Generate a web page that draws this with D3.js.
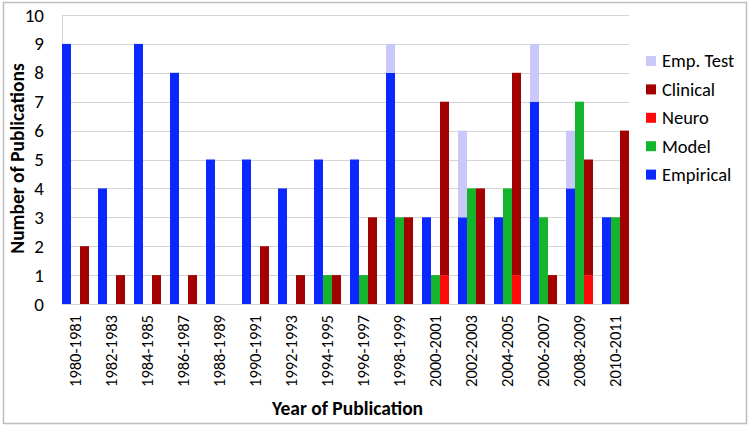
<!DOCTYPE html>
<html>
    <head>
        <meta charset="utf-8">
        <title>Publications by year</title>
        <script type="text/javascript" src="https://cdn.jsdelivr.net/npm/d3@7"></script>
        <style>
            body { margin: 0; background: #fff; }
            text { font-family: Carlito, Lato, "Liberation Sans", sans-serif; }
        </style>
    </head>
    <body>
        <script type="text/javascript">
            var periods = ['1980-1981', '1982-1983', '1984-1985', '1986-1987', '1988-1989', '1990-1991',
                '1992-1993', '1994-1995', '1996-1997', '1998-1999', '2000-2001', '2002-2003',
                '2004-2005', '2006-2007', '2008-2009', '2010-2011'];
            var empirical = [9, 4, 9, 8, 5, 5, 4, 5, 5, 8, 3, 3, 3, 7, 4, 3];
            var empTest   = [0, 0, 0, 0, 0, 0, 0, 0, 0, 1, 0, 3, 0, 2, 2, 0];
            var model     = [0, 0, 0, 0, 0, 0, 0, 1, 1, 3, 1, 4, 4, 3, 7, 3];
            var neuro     = [0, 0, 0, 0, 0, 0, 0, 0, 0, 0, 1, 0, 1, 0, 1, 0];
            var clinical  = [2, 1, 1, 1, 0, 2, 1, 1, 3, 3, 6, 4, 7, 1, 4, 6];
            var yTicks = [0, 1, 2, 3, 4, 5, 6, 7, 8, 9, 10];

            var legendItems = [
                {name: 'Emp. Test', color: '#c8c8fa'},
                {name: 'Clinical', color: '#a30000'},
                {name: 'Neuro', color: '#ff0a0a'},
                {name: 'Model', color: '#14b42d'},
                {name: 'Empirical', color: '#0a28ff'}
            ];
            var colorOf = {};
            legendItems.forEach(function(d) { colorOf[d.name] = d.color; });

            // three columns per period: blue (empirical + test), green (model), red (neuro + clinical)
            var columns = [
                [{name: 'Empirical', vals: empirical}, {name: 'Emp. Test', vals: empTest}],
                [{name: 'Model', vals: model}],
                [{name: 'Neuro', vals: neuro}, {name: 'Clinical', vals: clinical}]
            ];

            var W = 750, H = 428;
            var plot = {left: 62, right: 629, top: 15, bottom: 304};

            var svg = d3.select('body').append('svg')
                .attr('width', W)
                .attr('height', H);

            svg.append('rect')
                .attr('x', 3.5).attr('y', 2.5)
                .attr('width', 743).attr('height', 421)
                .attr('fill', '#fff')
                .attr('stroke', '#bdbdbd')
                .attr('stroke-width', 1.5);

            var x = d3.scaleBand()
                .domain(periods)
                .range([plot.left, plot.right])
                .paddingInner(0.25)
                .paddingOuter(0);

            var sub = d3.scaleBand()
                .domain([0, 1, 2])
                .range([0, x.bandwidth()]);

            var y = d3.scaleLinear()
                .domain([0, 10])
                .range([plot.bottom, plot.top]);

            // gridlines
            svg.append('g')
                .selectAll('line')
                .data(yTicks)
                .enter().append('line')
                .attr('x1', plot.left).attr('x2', plot.right)
                .attr('y1', function(d) { return Math.round(y(d)) + 0.5; })
                .attr('y2', function(d) { return Math.round(y(d)) + 0.5; })
                .attr('stroke', '#d4d4d4')
                .attr('stroke-width', 1);

            svg.append('line')
                .attr('x1', plot.left + 0.5).attr('x2', plot.left + 0.5)
                .attr('y1', plot.top).attr('y2', plot.bottom)
                .attr('stroke', '#d4d4d4');

            // bars
            var bars = svg.append('g');
            periods.forEach(function(p, i) {
                columns.forEach(function(col, c) {
                    var base = 0;
                    col.forEach(function(s) {
                        var v = s.vals[i];
                        if (v > 0) {
                            bars.append('rect')
                                .attr('x', x(p) + sub(c))
                                .attr('width', sub.bandwidth())
                                .attr('y', y(base + v))
                                .attr('height', y(base) - y(base + v))
                                .attr('fill', colorOf[s.name]);
                        }
                        base += v;
                    });
                });
            });

            // y axis labels
            var yAxis = svg.append('g')
                .attr('transform', 'translate(' + plot.left + ',0)')
                .call(d3.axisLeft(y).tickValues(yTicks).tickSize(0).tickPadding(18));
            yAxis.select('.domain').remove();
            yAxis.selectAll('text')
                .style('font-size', '19px')
                .attr('fill', '#000');

            // x axis labels
            var xAxis = svg.append('g')
                .attr('transform', 'translate(0,' + plot.bottom + ')')
                .call(d3.axisBottom(x).tickSize(0));
            xAxis.select('.domain').remove();
            xAxis.selectAll('text')
                .attr('transform', 'rotate(-90)')
                .attr('x', -11)
                .attr('y', 0)
                .attr('dy', '0.35em')
                .style('text-anchor', 'end')
                .style('font-size', '16.5px')
                .attr('fill', '#000');

            // axis titles
            svg.append('text')
                .attr('x', (plot.left + plot.right) / 2 + 2)
                .attr('y', 415)
                .attr('text-anchor', 'middle')
                .style('font-size', '19.5px')
                .style('font-weight', 'bold')
                .text('Year of Publication');

            svg.append('text')
                .attr('transform', 'translate(24,' + ((plot.top + plot.bottom) / 2 - 1) + ') rotate(-90)')
                .attr('text-anchor', 'middle')
                .style('font-size', '19.5px')
                .style('font-weight', 'bold')
                .text('Number of Publications');

            // legend
            var legend = svg.append('g')
                .attr('transform', 'translate(646,61)');
            var item = legend.selectAll('g')
                .data(legendItems)
                .enter().append('g')
                .attr('transform', function(d, i) { return 'translate(0,' + (i * 28.4) + ')'; });
            item.append('rect')
                .attr('x', 0).attr('y', -5)
                .attr('width', 10).attr('height', 10)
                .attr('fill', function(d) { return d.color; });
            item.append('text')
                .attr('x', 16).attr('y', 0)
                .attr('dy', '0.35em')
                .style('font-size', '18.5px')
                .text(function(d) { return d.name; });
        </script>
    </body>
</html>
